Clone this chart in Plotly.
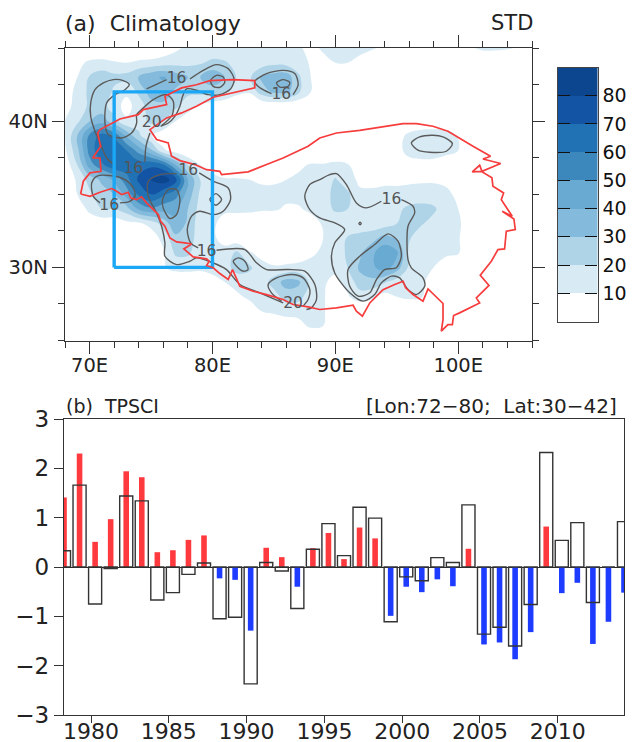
import plotly.graph_objects as go

W, H = 639, 742

# ---------- panel (a): gridded STD field ----------
lons = list(range(68, 107))
lats = list(range(45, 24, -1))
std_45 = [0,0,0,0,0,0,0,0,3,8,12,13,14,13,12,11,12,12,12,11,8,11,12,12,12,11,8,2,0,0,0,0,5,9,12,12,11,9,3]
std_44 = [0,7,12,13,11,10,12,13,15,16,17,19,22,21,17,13,14,17,16,14,9,8,10,10,8,3,0,0,0,0,0,0,0,0,0,0,0,0,0]
std_43 = [0,10,21,26,23,24,31,38,41,36,30,30,38,30,19,18,32,35,36,22,10,3,0,0,0,0,0,0,0,0,0,0,0,0,0,0,0,0,0]
std_42 = [3,14,22,28,18,12,22,35,36,28,22,23,24,22,13,11,25,32,33,22,10,2,0,0,0,0,0,0,0,0,0,0,0,0,0,0,0,0,0]
std_41 = [6,14,22,24,15,6,15,25,27,22,15,8,3,0,0,0,0,0,0,0,0,0,0,0,0,0,0,0,0,0,0,0,0,0,0,0,0,0,0]
std_40 = [10,18,30,36,24,12,16,22,20,10,3,0,0,0,0,0,0,0,0,0,0,0,0,0,0,0,0,0,0,0,0,0,0,0,0,0,0,0,0]
std_39 = [10,30,52,64,58,38,22,11,3,0,0,0,0,0,0,0,0,0,0,0,0,0,0,0,0,0,0,5,13,17,18,16,9,2,0,0,0,0,0]
std_38 = [8,27,54,68,69,60,46,32,12,5,1,0,0,0,0,0,0,0,0,0,0,0,0,0,0,0,0,6,14,17,18,15,10,1,0,0,0,0,0]
std_37 = [3,20,45,58,68,66,66,68,62,40,20,10,5,2,1,1,1,2,3,8,11,11,13,11,2,0,0,0,5,5,4,0,0,0,0,0,0,0,0]
std_36 = [0,12,24,32,42,56,72,80,86,74,40,20,14,11,11,10,9,9,10,12,14,14,21,14,8,6,7,7,8,9,9,8,2,0,0,0,0,0,0]
std_35 = [0,10,18,26,30,44,62,70,62,54,36,18,14,13,12,11,12,12,12,13,14,14,24,22,12,13,14,14,14,13,13,12,8,0,0,0,0,0,0]
std_34 = [0,0,14,20,20,26,42,48,44,42,30,16,13,12,12,12,11,11,9,9,12,14,22,20,14,14,14,18,22,24,22,13,10,1,0,0,0,0,0]
std_33 = [0,0,0,3,3,7,8,14,24,38,28,14,12,6,5,4,4,3,3,4,6,11,12,12,13,14,15,20,24,21,16,14,12,3,0,0,0,0,0]
std_32 = [0,0,0,0,0,0,0,3,14,27,26,14,12,6,3,2,2,2,2,3,5,10,13,21,24,26,34,29,21,14,14,13,11,2,0,0,0,0,0]
std_31 = [0,0,0,0,0,0,0,0,8,22,22,13,12,14,22,11,7,4,3,4,9,11,13,22,28,38,47,42,18,13,13,13,11,0,0,0,0,0,0]
std_30 = [0,0,0,0,0,0,0,2,9,13,13,12,13,16,24,22,13,11,12,13,12,10,12,20,32,38,45,35,18,13,10,2,0,0,0,0,0,0,0]
std_29 = [0,0,0,0,0,0,0,0,1,2,3,4,7,10,14,15,14,25,34,32,17,11,8,13,26,27,21,15,12,12,5,0,0,0,0,0,0,0,0]
std_28 = [0,0,0,0,0,0,0,0,0,0,0,0,0,1,8,12,12,15,25,24,14,11,5,9,15,12,6,10,12,11,3,0,0,0,0,0,0,0,0]
std_27 = [0,0,0,0,0,0,0,0,0,0,0,0,0,0,0,4,10,12,13,12,12,11,5,2,0,0,0,0,0,0,0,0,0,0,0,0,0,0,0]
std_26 = [0,0,0,0,0,0,0,0,0,0,0,0,0,0,0,0,0,1,5,8,11,10,2,0,0,0,0,0,0,0,0,0,0,0,0,0,0,0,0]
std_25 = [0,0,0,0,0,0,0,0,0,0,0,0,0,0,0,0,0,0,0,1,3,2,0,0,0,0,0,0,0,0,0,0,0,0,0,0,0,0,0]
std_rows = [std_45, std_44, std_43, std_42, std_41, std_40, std_39, std_38, std_37, std_36, std_35,
            std_34, std_33, std_32, std_31, std_30, std_29, std_28, std_27, std_26, std_25]

band_colors = ["#ffffff", "#d8ebf5", "#afd4e7", "#84bbdc", "#69aad2", "#3c88bd", "#2171b5", "#1454a5", "#0c468f"]
band_mids = [5, 15, 25, 35, 45, 55, 65, 75, 85]
cb_levels = [10, 20, 30, 40, 50, 60, 70, 80]

# plateau boundary (lon, lat)
tp_lon = [69.27,70.03,70.85,71.79,72.07,72.61,73.15,73.34,73.83,74.23,74.64,75.18,75.59,75.78,76.13,76.54,77.08,77.76,78.30,77.67,78.03,78.43,79.52,79.73,79.52,80.06,80.6,81.28,81.63,82.23,83.31,84.4,85.75,86.56,87.78,88.73,
          90.09,91.44,91.71,92.2,92.8,93.88,94.83,95.51,95.72,96.32,97.13,97.54,98.76,98.76,98.62,99.16,99.52,99.62,100.11,101.74,101.47,102.5,101.79,102.69,103.23,103.77,103.91,104.64,104.53,103.58,104.39,103.5,103.69,102.82,102.74,101.87,101.14,101.74,101.93,103.45,102.01,102.63,101.2,100.25,99.16,97.94,96.59,95.51,93.74,91.98,90.09,88.73,
          87.78,85.75,84.4,82.9,80.74,80.6,79.52,78.57,77.35,76.67,76.4,75.45,74.91,76.27,77.49,78.7,80.06,83.44,83.44,81.68,79.79,78.7,77.49,76.13,76.27,75.45,74.37,73.96,72.47,70.85,70.66,70.9,70.25,70.85,70.93,70.03,69.49,69.27]
tp_lat = [35.02,34.86,35.14,35.39,35.27,34.98,35.14,34.75,34.63,34.82,34.41,33.95,33.61,33.15,32.81,32.01,31.74,31.67,31.6,31.26,30.99,30.72,30.58,30.42,30.12,29.97,29.58,29.17,29.85,28.71,28.37,28.14,27.8,27.46,27.3,27.12,
          27.23,27.41,27.0,26.66,27.57,28.48,28.83,29.05,28.6,28.14,27.69,28.53,27.53,26.43,25.64,26.09,26.09,26.71,26.89,27.57,27.91,28.77,29.46,30.42,31.22,31.26,32.47,32.58,33.31,33.84,33.5,34.63,35.09,35.55,36.12,36.57,36.53,36.98,36.57,37.1,37.41,37.6,38.28,38.74,39.31,39.65,39.83,39.83,39.58,39.37,39.19,38.85,
          38.28,37.48,37.03,36.53,36.34,36.57,36.68,37.03,37.3,37.6,38.51,38.74,39.42,40.22,40.56,41.01,41.63,42.27,42.77,42.84,42.77,42.49,42.27,41.7,41.13,40.97,40.79,40.44,40.15,39.42,39.19,38.28,37.48,37.48,36.57,36.46,35.89,35.02]

# selected box
box_lon = [72, 80, 80, 72, 72]
box_lat = [30, 30, 42, 42, 30]

# climatology line contours: (lon list, lat list)
iso_lines = [
    ([72.07,71.39,70.85,70.44,70.09,70.09,70.44,71.12,71.93,72.74,73.23,72.88,72.07,71.39,71.25,71.52,72.61,73.42,73.83,73.83,74.23,75.18,76.27,76.81,76.73,75.86],
     [36.98,37.48,38.51,39.31,40.33,41.24,42.15,42.61,42.84,42.77,42.49,42.15,41.81,41.24,39.87,39.08,38.85,39.19,39.87,40.44,40.79,41.47,41.81,41.36,40.44,39.69]),
    ([74.91,74.59,74.5], [39.19,38.28,37.21]),
    ([74.64,76.27], [42.2,42.84]),
    ([78.16,79.25,80.33,81.28,81.77,81.47,80.6,79.65,78.7,77.89,77.57,77.35,76.94,76.4,75.78],
     [42.88,43.47,43.86,43.59,42.84,42.2,41.81,41.81,42.11,42.2,41.7,41.01,40.33,39.87,39.65]),
    ([79.84,80.33,80.87,81.0,80.6,80.06,79.84], [42.77,43.13,43.02,42.65,42.31,42.38,42.77]),
    ([84.8,84.12,83.58,83.44,84.4,85.75,86.7,86.97,86.56], [41.88,42.15,42.49,42.72,43.25,43.47,43.25,42.49,41.81]),
    ([85.21,85.75,86.29,86.16,85.48,85.21], [42.61,42.84,42.65,42.38,42.33,42.61]),
    ([70.85,70.3,70.17,70.17,70.57,71.66,72.88,73.56,73.69,73.28,72.47], [34.41,34.86,35.32,35.77,36.23,36.28,36.0,35.43,34.86,34.52,34.41]),
    ([77.08,75.72,74.78,74.78,75.45,75.86,76.13,76.13,77.08,78.16,78.7,79.92,81.14,82.23,83.85,85.75],
     [36.41,36.34,35.89,34.86,33.72,32.81,31.67,30.76,30.19,30.42,30.65,30.35,29.85,28.83,28.26,27.57]),
    ([75.94,76.4,77.08,77.35,77.08,76.54,75.99,75.94], [34.64,35.32,35.32,34.64,33.61,33.34,34.07,34.64]),
    ([78.92,80.06,81.28,81.47,80.87,80.06,78.97,78.3,77.95,78.22,78.84], [36.46,35.89,35.43,34.64,33.84,33.61,33.84,33.5,32.58,31.67,31.33]),
    ([79.79,80.28,80.74,80.28,79.79], [34.64,35.04,34.64,34.25,34.64]),
    ([80.33,82.63,83.58,84.4,86.16,87.51,88.33,88.46,88.05,87.65], [31.17,31.22,30.31,29.85,29.85,29.74,28.83,27.8,27.23,27.12]),
    ([81.69,82.09,82.63,82.9,82.5,81.96,81.69], [30.42,30.65,30.42,29.85,29.74,30.08,30.42]),
    ([85.62,84.8,84.53,85.21,86.43,87.38,87.92,87.78,87.38], [27.69,28.26,28.83,29.28,29.51,29.28,28.48,27.8,27.35]),
    ([95.37,96.32,96.45,95.91,95.91,96.18,97.13,97.27,96.59,95.91,95.23,94.56,93.74,93.2,92.25,91.17,89.95,89.68,89.95,90.76,89.95,88.73,87.92,87.51,87.92,88.73,89.54,90.09,90.9,91.71,92.52,93.74],
     [34.63,34.18,33.72,32.81,30.53,29.97,29.28,28.71,28.14,28.48,29.28,29.4,28.94,28.14,27.69,28.26,29.62,30.76,31.67,32.58,33.04,33.38,33.95,34.86,35.66,36.0,36.34,36.41,35.66,34.41,34.07,34.52]),
    ([91.03,91.98,93.2,94.29,95.1,95.37,94.96,94.01,93.34,92.8,91.85,91.17,91.03], [29.85,30.76,31.56,32.29,31.79,30.76,29.97,29.85,29.17,28.26,28.03,28.71,29.85]),
    ([91.92,92.01,92.1,92.01,91.92], [33.0,33.09,33.0,32.91,33.0]),
    ([96.18,96.86,97.94,98.76,99.52,99.03,97.67,96.72,96.18], [38.51,38.92,39.03,38.92,38.46,37.94,37.87,38.01,38.51]),
]
iso_label_lon = [73.56,75.05,77.08,85.6,71.6,78.03,79.52,86.56,94.56]
iso_label_lat = [36.73,39.87,42.84,41.77,34.18,36.57,31.06,27.46,34.63]
iso_label_txt = ["16","20","16","16","16","16","16","20","16"]

# ---------- panel (b) ----------
years = list(range(1978, 2015))
tpsci_color = [1.41,2.3,0.51,0.97,1.94,1.82,0.3,0.34,0.55,0.64,-0.23,-0.26,-1.29,0.39,0.2,-0.4,0.38,0.69,0.16,0.8,0.58,-0.99,-0.4,-0.51,-0.25,-0.39,0.37,-1.57,-1.53,-1.87,-1.32,0.82,-0.53,-0.32,-1.56,-1.11,-0.52]
tpsci_hollow = [0.33,1.66,-0.75,-0.03,1.44,1.34,-0.67,-0.52,-0.15,0.08,-1.05,-1.02,-2.37,0.09,-0.08,-0.84,0.36,0.88,0.23,1.21,0.99,-1.11,-0.2,-0.28,0.19,0.09,1.26,-1.36,-1.22,-1.6,-0.76,2.32,0.54,0.9,-0.72,0.0,0.92]
year_ticks = [1980,1985,1990,1995,2000,2005,2010]
y_ticks = [-3,-2,-1,0,1,2,3]
y_labels = ["\u22123","\u22122","\u22121","0","1","2","3"]

# ---------- layout geometry ----------
def xd(a, b): return [a / W, b / W]
def yd(top, bot): return [1 - bot / H, 1 - top / H]
FONT = "DejaVu Sans"
INK = "#333333"

n = len(band_colors)
cs = []
for i, c in enumerate(band_colors):
    cs += [[i / n, c], [(i + 1) / n, c]]

fig = go.Figure()
fig.add_trace(go.Contour(
    x=lons, y=lats, z=std_rows, zmin=0, zmax=90,
    autocontour=False,
    contours=dict(start=10, end=80, size=10, coloring="fill", showlines=False),
    line=dict(width=0, smoothing=1.2),
    colorscale=cs, xaxis="x", yaxis="y", showscale=False,
    hoverinfo="skip",
))
for lo, la in iso_lines:
    fig.add_trace(go.Scatter(x=lo, y=la, mode="lines", xaxis="x", yaxis="y",
                             line=dict(color="#5a5a5a", width=1.4, shape="spline", smoothing=0.8),
                             hoverinfo="skip", showlegend=False))
fig.add_trace(go.Scatter(x=box_lon, y=box_lat, mode="lines", xaxis="x", yaxis="y",
                         line=dict(color="#1aa7f5", width=3.4), showlegend=False, hoverinfo="skip"))
fig.add_trace(go.Scatter(x=tp_lon, y=tp_lat, mode="lines", xaxis="x", yaxis="y",
                         line=dict(color="#f63c3c", width=1.7), showlegend=False, hoverinfo="skip"))
fig.add_trace(go.Scatter(x=iso_label_lon, y=iso_label_lat, text=iso_label_txt, mode="text", xaxis="x", yaxis="y",
                         textfont=dict(family=FONT, size=15.5, color="#555555"), showlegend=False, hoverinfo="skip"))

# colour key: one column of bands on its own axes, ticks on both inner sides
fig.add_trace(go.Heatmap(x=[0], y=band_mids, z=[[m] for m in band_mids], zmin=0, zmax=90, colorscale=cs,
                         showscale=False, xaxis="x3", yaxis="y3", dy=10, hoverinfo="skip"))

bar_x = [y + 0.26 for y in years]
fig.add_trace(go.Bar(x=bar_x, y=tpsci_color, width=0.36, xaxis="x2", yaxis="y2",
                     marker=dict(color=["#ff3a3f" if v > 0 else "#1e3cff" for v in tpsci_color], line=dict(width=0)),
                     showlegend=False, hoverinfo="skip"))
fig.add_trace(go.Bar(x=bar_x, y=tpsci_hollow, width=0.84, xaxis="x2", yaxis="y2",
                     marker=dict(color="rgba(0,0,0,0)", line=dict(color="#333333", width=1.4)),
                     showlegend=False, hoverinfo="skip"))

maj = dict(ticks="outside", tickcolor=INK, tickwidth=1.2, linecolor=INK, linewidth=1.3, showgrid=False, zeroline=False)
fig.update_layout(
    width=W, height=H, autosize=False, margin=dict(l=0, r=0, t=0, b=0, autoexpand=False),
    paper_bgcolor="white", plot_bgcolor="white", barmode="overlay", showlegend=False,
    xaxis=dict(domain=xd(65, 532), range=[68, 106], anchor="y", mirror="ticks",
               tickvals=[70, 80, 90, 100], ticktext=["70E", "80E", "90E", "100E"], ticklen=12, ticklabelstandoff=-5,
               tickfont=dict(family=FONT, size=19.5, color="#222222"),
               minor=dict(tick0=68, dtick=2, ticks="outside", ticklen=6, tickcolor=INK, tickwidth=1.2), **maj),
    yaxis=dict(domain=yd(48, 340.5), range=[25, 45], anchor="x", mirror="ticks",
               tickvals=[30, 40], ticktext=["30N", "40N"], ticklen=12,
               tickfont=dict(family=FONT, size=19.5, color="#222222"),
               minor=dict(tick0=25, dtick=2.5, ticks="outside", ticklen=6, tickcolor=INK, tickwidth=1.2), **maj),
    xaxis2=dict(domain=xd(64, 624), range=[1978.26, 2014.26], anchor="y2", mirror=True,
                tickvals=year_ticks, ticklen=7, ticklabelstandoff=-11,
                tickfont=dict(family=FONT, size=22, color="#222222"), **maj),
    yaxis2=dict(domain=yd(419, 715), range=[-3, 3], anchor="x2", mirror=True,
                tickvals=y_ticks, ticktext=y_labels, ticklen=9,
                tickfont=dict(family=FONT, size=23, color="#222222"),
                **{**maj, "zeroline": True, "zerolinecolor": "#222222", "zerolinewidth": 1.4}),
    xaxis3=dict(domain=xd(558, 597.5), range=[-0.5, 0.5], anchor="y3", showticklabels=False, ticks="",
                showgrid=False, zeroline=False, showline=True, mirror=True, linecolor="#444444", linewidth=1.3),
    yaxis3=dict(domain=yd(67.5, 321.5), range=[0, 90], anchor="x3", side="right", mirror="ticks",
                tickvals=cb_levels, ticks="inside", ticklen=12, tickcolor="#111111", tickwidth=1.3,
                tickfont=dict(family=FONT, size=19, color="#111111"),
                showgrid=False, zeroline=False, showline=True, linecolor="#444444", linewidth=1.3),
)

def note(text, px, py, anchor, size):
    fig.add_annotation(text=text, xref="paper", yref="paper", x=px / W, y=1 - py / H, showarrow=False,
                       xanchor=anchor, yanchor="middle", font=dict(family=FONT, size=size, color="#222222"))
note("(a)\u00a0\u00a0Climatology", 63, 23, "left", 22)
note("STD", 535, 23, "right", 21)
note("(b)\u00a0\u00a0TPSCI", 64, 406, "left", 19)
note("[Lon:72\u221280;\u00a0 Lat:30\u221242]", 619, 406, "right", 20)

fig.write_html("out.html", config={"displayModeBar": False},
               post_script="document.body.style.margin='0';document.body.style.overflow='hidden';")
